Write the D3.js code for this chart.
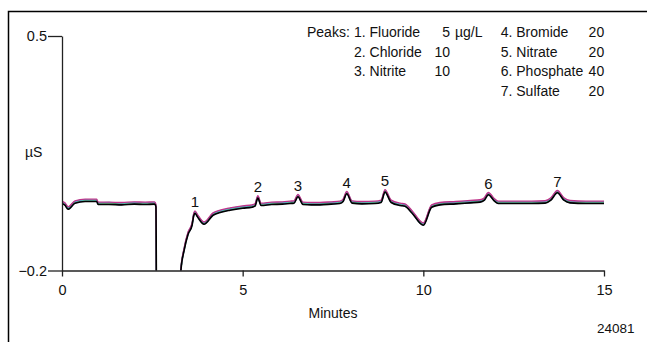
<!doctype html>
<html>
    <head>
        <meta charset="utf-8">
        <script src="https://cdn.jsdelivr.net/npm/d3@7/dist/d3.min.js" type="text/javascript"></script>
        <style>
            body{margin:0;background:#fff;}
            text{font-family:"Liberation Sans",Arial,sans-serif;fill:#111;font-size:14px;}
        </style>
    </head>
    <body>
        <svg id="chart"></svg>
        <script>
            // retention time, minutes (shared by all runs)
            var minutes=[0,0.08,0.17,0.36,0.64,0.96,1.00,1.30,1.65,2.00,2.30,2.56,2.60,2.62,3.22,3.29,3.38,3.49,3.60,3.65,
                         3.68,3.75,3.93,4.18,4.40,4.65,5.00,5.26,5.34,5.42,5.51,5.80,6.10,6.31,6.42,6.53,6.67,6.90,7.14,7.45,
                         7.69,7.78,7.88,8.03,8.30,8.66,8.83,8.94,9.11,9.36,9.49,9.69,10.00,10.23,10.46,10.90,11.30,11.57,11.68,11.80,
                         11.96,12.07,12.50,13.00,13.37,13.53,13.71,13.89,14.06,14.50,15.00];
            // conductivity, µS, one array per overlaid run
            var runBlue=[0.001,-0.004,-0.016,0.002,0.007,0.007,-0.002,-0.002,-0.003,-0.001,-0.002,-0.001,-0.009,-0.350,-0.350,-0.200,-0.139,-0.091,-0.064,-0.034,
                         -0.028,-0.039,-0.061,-0.034,-0.025,-0.019,-0.012,-0.010,-0.007,0.017,-0.005,-0.002,-0.001,0.001,0.002,0.021,-0.002,-0.003,-0.003,-0.001,
                         0.001,0.007,0.030,0.002,0.000,0.001,0.004,0.035,0.004,-0.005,-0.007,-0.028,-0.064,-0.010,-0.003,0.000,0.003,0.005,0.010,0.027,
                         0.009,0.001,0.001,0.001,0.002,0.011,0.033,0.011,0.003,0.001,0.001];
            var runGreen=[0.004,-0.001,-0.013,0.005,0.010,0.010,0.001,0.001,0.000,0.002,0.001,0.002,-0.006,-0.350,-0.350,-0.198,-0.136,-0.088,-0.061,-0.031,
                          -0.025,-0.036,-0.058,-0.031,-0.022,-0.016,-0.010,-0.007,-0.004,0.020,-0.002,0.001,0.002,0.004,0.005,0.024,0.001,0.000,0.000,0.002,
                          0.004,0.010,0.033,0.005,0.003,0.004,0.007,0.038,0.007,-0.002,-0.004,-0.025,-0.061,-0.007,0.000,0.003,0.006,0.008,0.013,0.030,
                          0.012,0.004,0.004,0.004,0.005,0.014,0.036,0.014,0.006,0.004,0.004];
            var runCyan=[0.005,0.000,-0.012,0.006,0.011,0.010,0.002,0.003,0.001,0.003,0.002,0.003,-0.005,-0.350,-0.350,-0.198,-0.135,-0.087,-0.060,-0.030,
                         -0.024,-0.035,-0.057,-0.030,-0.021,-0.015,-0.009,-0.006,-0.003,0.021,-0.001,0.002,0.003,0.005,0.006,0.025,0.002,0.001,0.001,0.003,
                         0.005,0.011,0.034,0.006,0.004,0.005,0.008,0.039,0.008,-0.001,-0.003,-0.024,-0.060,-0.006,0.001,0.004,0.007,0.009,0.014,0.031,
                         0.013,0.005,0.005,0.005,0.006,0.015,0.037,0.015,0.007,0.005,0.005];
            var runMagenta=[0.007,0.002,-0.010,0.008,0.013,0.013,0.004,0.004,0.003,0.005,0.004,0.005,-0.003,-0.350,-0.350,-0.196,-0.133,-0.085,-0.058,-0.028,
                            -0.022,-0.033,-0.055,-0.028,-0.019,-0.013,-0.007,-0.004,-0.001,0.023,0.001,0.004,0.005,0.007,0.008,0.027,0.004,0.003,0.003,0.005,
                            0.007,0.013,0.036,0.008,0.006,0.007,0.010,0.041,0.010,0.001,-0.001,-0.022,-0.058,-0.004,0.003,0.006,0.009,0.011,0.016,0.033,
                            0.015,0.007,0.007,0.007,0.008,0.017,0.039,0.017,0.009,0.007,0.007];
            var runBlack=[0.000,-0.005,-0.017,0.001,0.006,0.006,-0.003,-0.003,-0.004,-0.002,-0.003,-0.002,-0.010,-0.350,-0.350,-0.200,-0.140,-0.092,-0.065,-0.035,
                          -0.029,-0.040,-0.062,-0.035,-0.026,-0.020,-0.014,-0.011,-0.008,0.016,-0.006,-0.003,-0.002,0.000,0.001,0.020,-0.003,-0.004,-0.004,-0.002,
                          0.000,0.006,0.029,0.001,-0.001,0.000,0.003,0.034,0.003,-0.006,-0.008,-0.029,-0.065,-0.011,-0.004,-0.001,0.002,0.004,0.009,0.026,
                          0.008,0.000,0.000,0.000,0.001,0.010,0.032,0.010,0.002,0.000,0.000];
            var runs=[runBlue,runGreen,runCyan,runMagenta,runBlack];
            var runColors=["#4f6fc4","#6cb04a","#45b9cc","#c0348a","#000"];

            // peak labels
            var peakNumbers=["1","2","3","4","5","6","7"];
            var peakTimes=[3.68,5.42,6.53,7.88,8.94,11.80,13.71];
            var peakHeights=[-0.029,0.016,0.020,0.029,0.034,0.026,0.032];

            // legend
            var peakNames=["1. Fluoride","2. Chloride","3. Nitrite","4. Bromide","5. Nitrate","6. Phosphate","7. Sulfate"];
            var peakConc=["5","10","10","20","20","40","20"];
            var concUnit="µg/L";

            var xTicks=[0,5,10,15];
            var yTicks=[-0.2,0.5];

            var width=647,height=342;
            var x=d3.scaleLinear().domain([0,15]).range([62,604]);
            var y=d3.scaleLinear().domain([-0.2,0.5]).range([270.5,36]);

            var svg=d3.select("#chart").attr("width",width).attr("height",height);

            // frame
            svg.append("path").attr("d","M8.5,"+(height+5)+"V11.5H"+(width+5))
               .attr("fill","none").attr("stroke","#000").attr("stroke-width",1.5);

            svg.append("clipPath").attr("id","plotclip").append("rect")
               .attr("x",x(0)).attr("y",20).attr("width",x(15)-x(0)+4).attr("height",y(-0.2)-20);

            var line=d3.line().curve(d3.curveMonotoneX).x((d,i)=>x(minutes[i])).y(d=>y(d));
            svg.append("g").attr("clip-path","url(#plotclip)")
               .selectAll("path").data(runs).enter().append("path")
               .attr("d",line).attr("fill","none")
               .attr("stroke",(d,i)=>runColors[i])
               .attr("stroke-width",(d,i)=>i==runs.length-1?1.6:1.4)
               .attr("stroke-linejoin","round");

            var xaxis=d3.axisBottom(x).tickValues(xTicks).tickFormat(d3.format("d")).tickSize(6).tickSizeOuter(0).tickPadding(8);
            var yaxis=d3.axisLeft(y).tickValues(yTicks).tickFormat(d3.format(".1f")).tickSize(14).tickSizeOuter(0).tickPadding(1);
            var gx=svg.append("g").attr("transform","translate(0,"+y(-0.2)+")").call(xaxis);
            var gy=svg.append("g").attr("transform","translate("+x(0)+",0)").call(yaxis);
            [gx,gy].forEach(g=>{
                g.select(".domain").attr("stroke","#222").attr("stroke-width",1.3);
                g.selectAll(".tick line").attr("stroke","#222").attr("stroke-width",1.3);
                g.selectAll(".tick text").style("font-size","14.5px").style("font-family",null).attr("fill","#111");
            });

            svg.append("text").attr("x",25).attr("y",157).text("µS");
            svg.append("text").attr("x",333).attr("y",318).attr("text-anchor","middle").text("Minutes");
            svg.append("text").attr("x",597).attr("y",333).style("font-size","13.5px").text("24081");

            svg.selectAll("text.peak").data(peakNumbers).enter().append("text").attr("class","peak")
               .attr("x",(d,i)=>x(peakTimes[i])).attr("y",(d,i)=>y(peakHeights[i])-6)
               .attr("text-anchor","middle").style("font-size","15px").text(d=>d);

            // legend, two columns
            var rowY=[36.7,56.5,76.2,96];
            svg.append("text").attr("x",307).attr("y",rowY[0]).text("Peaks:");
            var leg=svg.selectAll("g.leg").data(peakNames).enter().append("g").attr("class","leg")
                       .attr("transform",(d,i)=>"translate("+(i<3?354:500.7)+","+rowY[i<3?i:i-3]+")");
            leg.append("text").text(d=>d);
            leg.append("text").attr("x",(d,i)=>i<3?96:103.5).attr("text-anchor","end")
               .text((d,i)=>peakConc[i]);
            leg.filter((d,i)=>i==0).append("text").attr("x",101).text(concUnit);
        </script>
    </body>
</html>
